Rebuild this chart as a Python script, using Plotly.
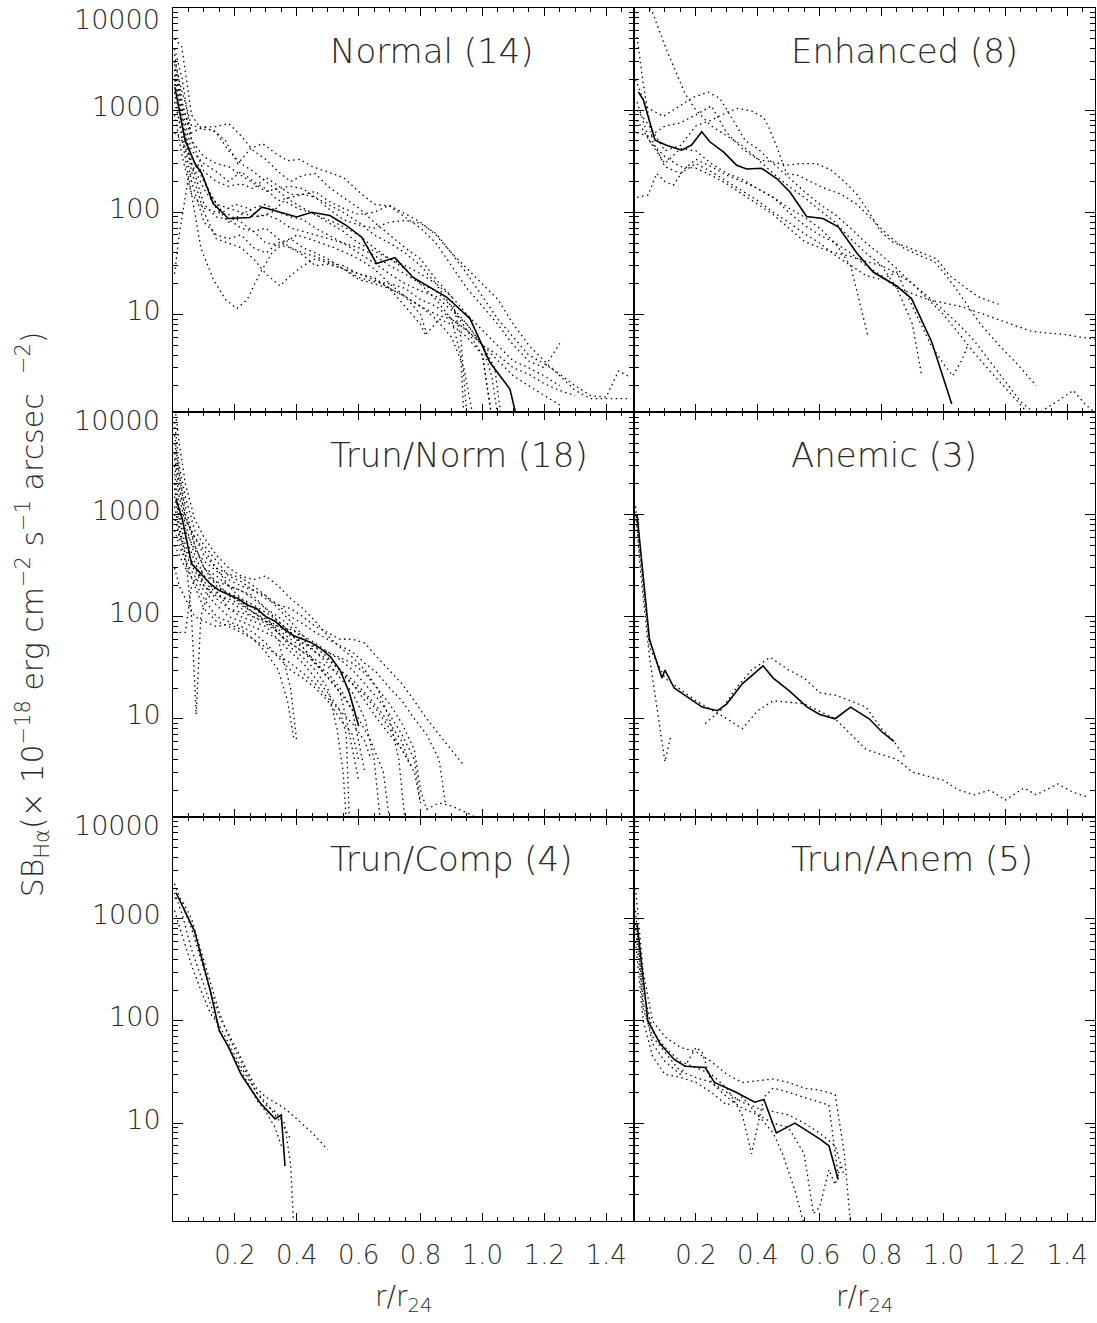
import math
import plotly.graph_objects as go
from plotly.subplots import make_subplots

# ---------------- data ----------------
panel_titles = ["Normal (14)", "Enhanced (8)", "Trun/Norm (18)",
                "Anemic (3)", "Trun/Comp (4)", "Trun/Anem (5)"]

x_tick_vals = [0.2, 0.4, 0.6, 0.8, 1.0, 1.2, 1.4]
x_tick_text = ["0.2", "0.4", "0.6", "0.8", "1.0", "1.2", "1.4"]
y_tick_vals = [10, 100, 1000, 10000]
y_tick_text = ["10", "100", "1000", ""]
y_top_label = "10000"

# --- Normal (14) ---
normal_mean_r = [0.006, 0.039, 0.071, 0.093, 0.13, 0.179, 0.249, 0.287, 0.313, 0.40, 0.448, 0.507,
                 0.561, 0.61, 0.658, 0.717, 0.776, 0.884, 0.96, 1.024, 1.089, 1.11]
normal_mean_sb = [1680, 508, 300, 240, 122, 87, 89, 112, 107, 90, 100, 93,
                  74, 57, 31.5, 36, 23, 14.8, 9.1, 3.4, 1.86, 1.0]
normal_profiles = [
    [(0.005, 3000), (0.03, 1500), (0.06, 700), (0.1, 680), (0.14, 690), (0.18, 740), (0.22, 560), (0.26, 400), (0.3, 330), (0.34, 250), (0.38, 200), (0.42, 230), (0.46, 240), (0.5, 180), (0.55, 140), (0.6, 110), (0.65, 80), (0.7, 60), (0.75, 45), (0.8, 35), (0.85, 22), (0.9, 15), (0.93, 6), (0.95, 1.0)],
    [(0.005, 5000), (0.028, 4200), (0.06, 900), (0.09, 650), (0.13, 640), (0.17, 500), (0.21, 300), (0.25, 420), (0.29, 470), (0.33, 380), (0.37, 320), (0.41, 330), (0.45, 280), (0.5, 250), (0.55, 220), (0.6, 160), (0.65, 120), (0.7, 115), (0.75, 90), (0.8, 70), (0.85, 50), (0.9, 30), (0.95, 18), (1.0, 12), (1.05, 8), (1.1, 5), (1.15, 3.5), (1.2, 3), (1.25, 5.2)],
    [(0.005, 2500), (0.03, 1000), (0.06, 400), (0.1, 300), (0.14, 250), (0.18, 200), (0.22, 250), (0.26, 200), (0.3, 170), (0.34, 130), (0.38, 140), (0.42, 150), (0.46, 160), (0.5, 130), (0.55, 110), (0.6, 95), (0.65, 100), (0.7, 117), (0.74, 100), (0.8, 80), (0.85, 60), (0.9, 40), (0.95, 25), (1.0, 15), (1.05, 9), (1.1, 6), (1.15, 4), (1.2, 3.3), (1.25, 2.6), (1.3, 2.0), (1.35, 1.6), (1.4, 1.55), (1.44, 2.8), (1.47, 2.5)],
    [(0.005, 25), (0.02, 60), (0.05, 220), (0.08, 300), (0.12, 150), (0.16, 100), (0.2, 120), (0.24, 110), (0.28, 90), (0.32, 100), (0.36, 130), (0.4, 110), (0.44, 100), (0.48, 90), (0.52, 80), (0.56, 70), (0.6, 60), (0.65, 45), (0.7, 35), (0.75, 30), (0.8, 25), (0.85, 20), (0.9, 12), (0.95, 7), (1.0, 4), (1.03, 1.0)],
    [(0.005, 1500), (0.03, 500), (0.06, 150), (0.09, 45), (0.13, 22), (0.17, 14), (0.206, 11.4), (0.24, 14), (0.28, 25), (0.32, 40), (0.36, 50), (0.4, 60), (0.44, 55), (0.48, 50), (0.52, 45), (0.56, 40), (0.6, 35), (0.65, 28), (0.7, 20), (0.75, 15), (0.8, 12), (0.85, 10), (0.9, 9), (0.95, 7), (1.0, 5), (1.04, 3), (1.06, 1.0)],
    [(0.005, 1800), (0.03, 800), (0.06, 250), (0.1, 100), (0.14, 55), (0.18, 50), (0.22, 45), (0.26, 35), (0.3, 25), (0.346, 19), (0.38, 24), (0.42, 30), (0.46, 35), (0.5, 32), (0.55, 28), (0.6, 25), (0.65, 22), (0.7, 18), (0.75, 15), (0.8, 12), (0.85, 9), (0.9, 6), (0.94, 3), (0.97, 1.0)],
    [(0.005, 2200), (0.03, 900), (0.06, 300), (0.1, 120), (0.14, 90), (0.18, 85), (0.22, 70), (0.26, 65), (0.3, 70), (0.34, 55), (0.38, 45), (0.42, 40), (0.46, 37), (0.5, 33), (0.55, 30), (0.6, 25), (0.65, 23), (0.7, 18), (0.75, 12), (0.8, 8), (0.82, 6)],
    [(0.005, 4000), (0.03, 2000), (0.06, 500), (0.1, 250), (0.14, 200), (0.18, 180), (0.22, 190), (0.26, 170), (0.3, 220), (0.34, 180), (0.38, 150), (0.42, 150), (0.46, 140), (0.5, 120), (0.55, 100), (0.6, 80), (0.65, 60), (0.7, 50), (0.75, 40), (0.8, 30), (0.85, 20), (0.9, 15), (0.95, 10), (1.0, 7), (1.05, 5), (1.1, 3.5), (1.15, 3), (1.2, 2.5), (1.25, 2)],
    [(0.005, 3500), (0.03, 1200), (0.06, 500), (0.1, 350), (0.14, 300), (0.18, 280), (0.22, 230), (0.26, 190), (0.3, 160), (0.34, 170), (0.38, 180), (0.42, 170), (0.46, 140), (0.5, 110), (0.55, 85), (0.6, 75), (0.65, 70), (0.7, 80), (0.75, 83), (0.8, 78), (0.85, 62), (0.9, 40), (0.95, 28), (1.0, 20), (1.05, 14), (1.1, 8), (1.15, 5), (1.2, 3.5), (1.25, 2.5), (1.3, 1.8), (1.35, 1.5), (1.4, 1.5), (1.45, 1.5), (1.48, 1.5)],
    [(0.005, 2800), (0.03, 1100), (0.06, 600), (0.1, 690), (0.14, 600), (0.18, 400), (0.22, 300), (0.26, 250), (0.3, 200), (0.34, 160), (0.38, 130), (0.42, 110), (0.46, 95), (0.5, 80), (0.55, 65), (0.6, 50), (0.65, 42), (0.7, 35), (0.75, 28), (0.8, 20), (0.85, 14), (0.9, 9), (0.93, 4), (0.94, 1.0)],
    [(0.005, 1200), (0.03, 600), (0.06, 200), (0.1, 80), (0.14, 60), (0.18, 55), (0.22, 60), (0.26, 45), (0.3, 40), (0.34, 50), (0.38, 55), (0.42, 45), (0.46, 40), (0.5, 35), (0.55, 28), (0.6, 22), (0.65, 20), (0.7, 18), (0.75, 15), (0.8, 10), (0.82, 6.5), (0.86, 9), (0.9, 8), (0.95, 6), (1.0, 4), (1.03, 1.0)],
    [(0.005, 900), (0.03, 350), (0.06, 150), (0.1, 110), (0.14, 100), (0.18, 95), (0.22, 80), (0.26, 65), (0.3, 50), (0.34, 48), (0.38, 45), (0.42, 38), (0.46, 30), (0.5, 31), (0.55, 28), (0.6, 23), (0.65, 21), (0.7, 20), (0.75, 18), (0.8, 14), (0.85, 12), (0.9, 9), (0.95, 7), (1.0, 5), (1.05, 4), (1.1, 3), (1.15, 2.6), (1.2, 2.1), (1.25, 1.8), (1.3, 1.6)],
    [(0.005, 600), (0.03, 500), (0.06, 300), (0.1, 170), (0.14, 110), (0.18, 80), (0.22, 95), (0.26, 110), (0.3, 120), (0.34, 100), (0.38, 90), (0.42, 85), (0.46, 70), (0.5, 60), (0.55, 50), (0.6, 45), (0.65, 38), (0.7, 30), (0.75, 25), (0.8, 20), (0.85, 17), (0.9, 12), (0.95, 8), (1.0, 5), (1.03, 2.5), (1.05, 1.0)],
    [(0.005, 2000), (0.03, 700), (0.06, 350), (0.1, 200), (0.14, 120), (0.18, 110), (0.22, 100), (0.26, 90), (0.3, 95), (0.34, 85), (0.38, 70), (0.42, 65), (0.46, 60), (0.5, 55), (0.55, 50), (0.6, 40), (0.65, 32), (0.7, 25), (0.75, 20), (0.8, 17), (0.85, 15), (0.9, 11), (0.95, 8), (1.0, 5), (1.05, 3.5), (1.1, 2.5), (1.15, 2), (1.2, 1.6), (1.25, 1.3)],
]

# --- Enhanced (8) ---
enhanced_mean_r = [0.014, 0.03, 0.068, 0.105, 0.154, 0.186, 0.219, 0.245, 0.289, 0.332, 0.364, 0.412,
                   0.461, 0.504, 0.558, 0.611, 0.66, 0.72, 0.773, 0.849, 0.897, 0.962, 1.027]
enhanced_mean_sb = [1510, 1260, 508, 454, 405, 455, 615, 490, 390, 288, 265, 270,
                    214, 158, 91, 87, 72, 40, 26, 19, 14.3, 5.4, 1.33]
enhanced_profiles = [
    [(0.01, 12000), (0.057, 9500), (0.105, 3900), (0.165, 1450), (0.2, 1000), (0.25, 700), (0.3, 560), (0.35, 450), (0.4, 330), (0.45, 240), (0.5, 180), (0.55, 140), (0.6, 105), (0.65, 80), (0.7, 55), (0.75, 40), (0.8, 30), (0.85, 18), (0.9, 8), (0.93, 2.5)],
    [(0.01, 140), (0.046, 148), (0.073, 240), (0.1, 200), (0.127, 184), (0.16, 260), (0.2, 330), (0.25, 280), (0.3, 230), (0.35, 200), (0.4, 170), (0.45, 140), (0.5, 110), (0.55, 90), (0.6, 70), (0.65, 50), (0.7, 30), (0.757, 6)],
    [(0.005, 2000), (0.04, 1070), (0.095, 870), (0.149, 1100), (0.193, 1340), (0.24, 1500), (0.278, 1300), (0.32, 800), (0.36, 500), (0.4, 420), (0.45, 300), (0.5, 220), (0.55, 160), (0.6, 120), (0.65, 95), (0.7, 70), (0.75, 50), (0.8, 38), (0.85, 28), (0.9, 20), (0.95, 14), (1.0, 10), (1.05, 6.5), (1.1, 4.2), (1.15, 2.8), (1.2, 1.9), (1.25, 1.3), (1.28, 1.0)],
    [(0.01, 1000), (0.05, 700), (0.1, 400), (0.15, 450), (0.2, 700), (0.25, 800), (0.3, 950), (0.335, 1040), (0.38, 980), (0.418, 850), (0.434, 700), (0.46, 450), (0.493, 240), (0.53, 230), (0.57, 200), (0.62, 170), (0.67, 150), (0.72, 120), (0.77, 85), (0.82, 60), (0.87, 45), (0.92, 38), (0.97, 33), (1.0, 26), (1.04, 18), (1.08, 12), (1.12, 8), (1.18, 5), (1.25, 3), (1.3, 2)],
    [(0.01, 600), (0.05, 550), (0.1, 700), (0.15, 750), (0.2, 900), (0.25, 1100), (0.3, 600), (0.35, 420), (0.4, 330), (0.45, 310), (0.5, 290), (0.54, 300), (0.59, 300), (0.636, 260), (0.676, 205), (0.72, 150), (0.76, 100), (0.795, 66), (0.84, 50), (0.88, 46), (0.93, 40), (0.978, 35), (1.02, 24), (1.063, 19), (1.11, 15), (1.15, 13.5), (1.188, 12.3)],
    [(0.01, 1200), (0.05, 500), (0.1, 300), (0.15, 420), (0.2, 400), (0.25, 300), (0.3, 240), (0.35, 210), (0.4, 170), (0.45, 140), (0.5, 100), (0.55, 75), (0.6, 60), (0.65, 50), (0.7, 40), (0.75, 30), (0.8, 24), (0.85, 18), (0.9, 16), (0.95, 14), (1.0, 13), (1.063, 11.8), (1.12, 10.3), (1.172, 9.1), (1.22, 8), (1.28, 6.9), (1.33, 6.6), (1.387, 6.4), (1.44, 6), (1.49, 5.7)],
    [(0.01, 5200), (0.03, 1800), (0.06, 500), (0.1, 280), (0.15, 240), (0.2, 300), (0.25, 250), (0.3, 200), (0.35, 160), (0.4, 130), (0.45, 100), (0.5, 80), (0.55, 62), (0.6, 50), (0.65, 38), (0.7, 30), (0.75, 24), (0.8, 22), (0.85, 26), (0.88, 16), (0.92, 9), (0.96, 5), (1.0, 3.3), (1.03, 2.5), (1.06, 3.6), (1.08, 5.1)],
    [(0.01, 800), (0.05, 500), (0.1, 350), (0.15, 280), (0.2, 270), (0.25, 230), (0.3, 190), (0.35, 150), (0.4, 120), (0.45, 95), (0.5, 70), (0.55, 52), (0.6, 45), (0.65, 40), (0.7, 37), (0.75, 33), (0.8, 30), (0.85, 25), (0.9, 20), (0.95, 15), (1.0, 11), (1.05, 8), (1.1, 5.5), (1.15, 3.5), (1.2, 2.2), (1.25, 1.4), (1.3, 1.05), (1.35, 1.3), (1.42, 1.8), (1.46, 1.3), (1.49, 1.1)],
]

# --- Trun/Norm (18) ---
trunnorm_mean_r = [0.01, 0.03, 0.06, 0.09, 0.12, 0.15, 0.18, 0.21, 0.24, 0.27, 0.3, 0.33, 0.36, 0.39,
                   0.42, 0.45, 0.48, 0.51, 0.54, 0.57, 0.6]
trunnorm_mean_sb = [1400, 900, 330, 260, 210, 180, 165, 150, 130, 120, 100, 90, 75, 65,
                    60, 55, 48, 40, 30, 18, 8.5]
trunnorm_profiles = [
    [(0.005, 12000), (0.02, 5000), (0.04, 2000), (0.07, 900), (0.1, 600), (0.14, 400), (0.18, 300), (0.22, 250), (0.26, 230), (0.3, 250), (0.34, 200), (0.38, 150), (0.42, 120), (0.46, 90), (0.5, 65), (0.54, 50), (0.58, 40), (0.62, 30), (0.66, 20), (0.7, 10), (0.73, 4), (0.75, 1.0)],
    [(0.005, 8000), (0.02, 3000), (0.04, 1500), (0.07, 700), (0.1, 500), (0.14, 350), (0.18, 250), (0.22, 220), (0.26, 180), (0.3, 150), (0.34, 130), (0.38, 120), (0.42, 100), (0.46, 80), (0.5, 70), (0.54, 60), (0.58, 60), (0.62, 55), (0.66, 40), (0.7, 30), (0.74, 22), (0.78, 15), (0.82, 10), (0.86, 7), (0.9, 5), (0.94, 3.5)],
    [(0.005, 5000), (0.02, 2500), (0.04, 1200), (0.07, 500), (0.1, 300), (0.14, 200), (0.18, 170), (0.22, 150), (0.26, 120), (0.3, 100), (0.34, 70), (0.38, 50), (0.42, 40), (0.46, 30), (0.5, 20), (0.53, 8), (0.55, 3), (0.56, 1.0)],
    [(0.005, 3000), (0.02, 1500), (0.04, 800), (0.07, 400), (0.1, 250), (0.14, 180), (0.18, 120), (0.22, 100), (0.26, 90), (0.3, 80), (0.34, 60), (0.38, 20), (0.4, 6)],
    [(0.005, 70), (0.02, 70), (0.04, 70), (0.06, 200), (0.1, 300), (0.14, 250), (0.18, 200), (0.22, 180), (0.26, 150), (0.3, 120), (0.34, 100), (0.38, 80), (0.42, 60), (0.46, 45), (0.5, 35), (0.54, 25), (0.58, 18), (0.62, 10), (0.65, 4), (0.67, 1.0)],
    [(0.005, 1500), (0.02, 800), (0.04, 400), (0.06, 100), (0.075, 11), (0.09, 100), (0.12, 200), (0.16, 180), (0.2, 150), (0.24, 120), (0.28, 100), (0.32, 80), (0.36, 60), (0.4, 50), (0.44, 40), (0.48, 30), (0.52, 22), (0.56, 15), (0.6, 10), (0.64, 6), (0.68, 3), (0.7, 1.0)],
    [(0.005, 2000), (0.02, 1000), (0.04, 600), (0.07, 350), (0.1, 200), (0.14, 150), (0.18, 120), (0.22, 110), (0.26, 100), (0.3, 90), (0.34, 80), (0.38, 75), (0.42, 65), (0.46, 55), (0.5, 45), (0.54, 40), (0.58, 35), (0.62, 28), (0.66, 20), (0.7, 14), (0.74, 9), (0.78, 5), (0.8, 2), (0.82, 1.3), (0.86, 1.5), (0.9, 1.4), (0.95, 1.2), (1.0, 1.0)],
    [(0.005, 4000), (0.02, 2000), (0.04, 900), (0.07, 600), (0.1, 450), (0.14, 300), (0.18, 200), (0.22, 150), (0.26, 130), (0.3, 110), (0.34, 90), (0.38, 70), (0.42, 55), (0.46, 50), (0.5, 45), (0.54, 38), (0.58, 30), (0.62, 22), (0.66, 16), (0.7, 11), (0.74, 7), (0.78, 4), (0.8, 1.5)],
    [(0.005, 6000), (0.02, 2500), (0.04, 1000), (0.07, 500), (0.1, 300), (0.14, 220), (0.18, 160), (0.22, 140), (0.26, 110), (0.3, 90), (0.34, 75), (0.38, 60), (0.42, 50), (0.46, 35), (0.5, 28), (0.54, 20), (0.58, 12), (0.6, 6), (0.62, 3)],
    [(0.005, 1000), (0.02, 600), (0.04, 350), (0.07, 250), (0.1, 180), (0.14, 130), (0.18, 100), (0.22, 90), (0.26, 80), (0.3, 70), (0.34, 60), (0.38, 45), (0.42, 35), (0.46, 25), (0.5, 18), (0.54, 12), (0.56, 7), (0.57, 1.0)],
    [(0.005, 2500), (0.02, 1200), (0.04, 700), (0.07, 450), (0.1, 350), (0.14, 280), (0.18, 230), (0.22, 200), (0.26, 180), (0.3, 160), (0.34, 130), (0.38, 100), (0.42, 85), (0.46, 70), (0.5, 60), (0.54, 52), (0.58, 45), (0.62, 35), (0.66, 28), (0.7, 20), (0.74, 15), (0.78, 10), (0.82, 7), (0.86, 4), (0.88, 1.5)],
    [(0.005, 500), (0.02, 400), (0.04, 300), (0.07, 220), (0.1, 150), (0.14, 100), (0.18, 90), (0.22, 80), (0.26, 70), (0.3, 55), (0.34, 40), (0.38, 30), (0.42, 25), (0.46, 20), (0.5, 15), (0.54, 10), (0.58, 7), (0.6, 4)],
    [(0.005, 3500), (0.02, 1800), (0.04, 900), (0.07, 600), (0.1, 400), (0.14, 300), (0.18, 260), (0.22, 240), (0.26, 200), (0.3, 160), (0.34, 120), (0.38, 90), (0.42, 65), (0.46, 50), (0.5, 40), (0.54, 30), (0.58, 22), (0.62, 15), (0.66, 10), (0.7, 7), (0.74, 5), (0.77, 3.5)],
    [(0.005, 700), (0.02, 500), (0.04, 350), (0.07, 200), (0.1, 120), (0.14, 90), (0.18, 80), (0.22, 70), (0.26, 60), (0.3, 45), (0.34, 30), (0.37, 15), (0.39, 6.5)],
    [(0.005, 1800), (0.02, 900), (0.04, 500), (0.07, 300), (0.1, 220), (0.14, 170), (0.18, 140), (0.22, 120), (0.26, 100), (0.3, 85), (0.34, 70), (0.38, 55), (0.42, 45), (0.46, 38), (0.5, 32), (0.54, 28), (0.58, 22), (0.62, 17), (0.66, 12), (0.7, 8), (0.74, 5), (0.78, 3), (0.8, 1.5)],
    [(0.005, 1200), (0.02, 700), (0.04, 400), (0.07, 280), (0.1, 200), (0.14, 160), (0.18, 150), (0.22, 130), (0.26, 110), (0.3, 95), (0.34, 80), (0.38, 65), (0.42, 55), (0.46, 45), (0.5, 38), (0.54, 30), (0.58, 24), (0.62, 18), (0.66, 13), (0.7, 9), (0.74, 6), (0.76, 4)],
    [(0.005, 900), (0.02, 650), (0.04, 450), (0.07, 300), (0.1, 250), (0.14, 220), (0.18, 200), (0.22, 180), (0.26, 160), (0.3, 120), (0.34, 90), (0.38, 70), (0.42, 50), (0.46, 35), (0.5, 25), (0.54, 18), (0.56, 10), (0.58, 5), (0.6, 2.5)],
    [(0.005, 300), (0.02, 200), (0.04, 150), (0.07, 100), (0.1, 90), (0.14, 80), (0.18, 85), (0.22, 75), (0.26, 60), (0.3, 50), (0.34, 42), (0.38, 35), (0.42, 28), (0.46, 22), (0.5, 16), (0.54, 12), (0.58, 9), (0.62, 6), (0.64, 4)],
]

# --- Anemic (3) ---
anemic_mean_r = [0.01, 0.05, 0.09, 0.1, 0.13, 0.22, 0.27, 0.3, 0.35, 0.417, 0.45, 0.5, 0.56, 0.6, 0.65, 0.7, 0.76, 0.8, 0.84]
anemic_mean_sb = [1000, 60, 25, 30, 20, 13, 12, 14, 22, 33, 25, 19, 13, 11, 10, 13, 10, 7.5, 6]
anemic_profiles = [
    [(0.005, 1200), (0.02, 300), (0.05, 40), (0.08, 10), (0.1, 3.8), (0.12, 7)],
    [(0.23, 9), (0.28, 12), (0.33, 20), (0.38, 30), (0.44, 40), (0.5, 30), (0.55, 25), (0.6, 18), (0.65, 17), (0.7, 15), (0.75, 13), (0.8, 8), (0.84, 6), (0.88, 4)],
    [(0.005, 1000), (0.03, 200), (0.05, 50), (0.1, 25), (0.2, 15), (0.3, 10), (0.35, 8), (0.4, 12), (0.45, 15), (0.55, 14), (0.65, 10), (0.75, 5), (0.85, 4), (0.9, 3), (1.0, 2.5), (1.05, 2), (1.1, 1.8), (1.15, 2), (1.2, 1.6), (1.26, 2.1), (1.3, 1.8), (1.37, 2.3), (1.42, 1.9), (1.47, 1.7)],
]

# --- Trun/Comp (4) ---
truncomp_mean_r = [0.01, 0.07, 0.12, 0.15, 0.18, 0.22, 0.28, 0.33, 0.35, 0.362]
truncomp_mean_sb = [1800, 750, 200, 80, 55, 30, 16, 11, 12, 3.8]
truncomp_profiles = [
    [(0.005, 2200), (0.03, 1400), (0.06, 800), (0.09, 400), (0.12, 200), (0.15, 110), (0.18, 75), (0.21, 50), (0.24, 32), (0.27, 22), (0.3, 18), (0.33, 16), (0.36, 14), (0.4, 11), (0.45, 8), (0.5, 5.5)],
    [(0.005, 1600), (0.03, 1500), (0.06, 1000), (0.09, 500), (0.12, 250), (0.15, 120), (0.18, 70), (0.21, 45), (0.24, 30), (0.27, 20), (0.3, 15), (0.33, 13), (0.36, 10), (0.38, 4), (0.39, 1.0)],
    [(0.005, 1200), (0.03, 700), (0.06, 350), (0.09, 200), (0.12, 120), (0.15, 90), (0.18, 60), (0.21, 40), (0.24, 28), (0.27, 20), (0.3, 16), (0.33, 12), (0.36, 9), (0.38, 7)],
    [(0.005, 1800), (0.03, 1100), (0.06, 500), (0.09, 280), (0.12, 150), (0.15, 80), (0.18, 55), (0.21, 38), (0.24, 25), (0.27, 17), (0.3, 13), (0.33, 9), (0.35, 6)],
]

# --- Trun/Anem (5) ---
trunanem_mean_r = [0.01, 0.045, 0.084, 0.13, 0.165, 0.23, 0.26, 0.33, 0.39, 0.42, 0.46, 0.52, 0.6, 0.63, 0.66]
trunanem_mean_sb = [900, 100, 60, 42, 36, 35, 25, 20, 16, 17, 8, 10, 7, 6, 2.8]
trunanem_profiles = [
    [(0.005, 2000), (0.03, 300), (0.06, 100), (0.1, 70), (0.15, 55), (0.2, 50), (0.25, 40), (0.3, 30), (0.35, 25), (0.4, 26), (0.45, 27), (0.5, 25), (0.55, 22), (0.6, 21), (0.65, 19), (0.68, 5), (0.7, 1.0)],
    [(0.005, 900), (0.03, 200), (0.06, 80), (0.1, 55), (0.15, 40), (0.2, 35), (0.25, 30), (0.3, 22), (0.35, 12), (0.38, 5), (0.42, 18), (0.45, 22), (0.5, 20), (0.55, 18), (0.6, 16), (0.63, 15), (0.66, 3)],
    [(0.005, 1200), (0.03, 150), (0.06, 60), (0.1, 40), (0.15, 30), (0.2, 55), (0.22, 50), (0.25, 25), (0.3, 18), (0.35, 14), (0.4, 12), (0.45, 8), (0.48, 5), (0.52, 2.2), (0.55, 1.0)],
    [(0.005, 600), (0.03, 100), (0.06, 45), (0.1, 30), (0.15, 28), (0.2, 25), (0.25, 20), (0.3, 15), (0.35, 18), (0.4, 12), (0.45, 10), (0.5, 9), (0.55, 5), (0.58, 1.3), (0.6, 1.5), (0.63, 3.5), (0.65, 2.5), (0.67, 4)],
    [(0.005, 800), (0.03, 130), (0.06, 70), (0.1, 50), (0.15, 32), (0.2, 28), (0.25, 25), (0.3, 20), (0.35, 16), (0.4, 14), (0.45, 13), (0.5, 12), (0.55, 10), (0.6, 8), (0.65, 6), (0.68, 3)],
]

# ---------------- figure ----------------
FONT = "DejaVu Sans"
TXT = "#2a2a2a"
WEIGHT = 200

fig = make_subplots(rows=3, cols=2, horizontal_spacing=0, vertical_spacing=0)

panels = [
    (1, 1, panel_titles[0], normal_profiles, normal_mean_r, normal_mean_sb),
    (1, 2, panel_titles[1], enhanced_profiles, enhanced_mean_r, enhanced_mean_sb),
    (2, 1, panel_titles[2], trunnorm_profiles, trunnorm_mean_r, trunnorm_mean_sb),
    (2, 2, panel_titles[3], anemic_profiles, anemic_mean_r, anemic_mean_sb),
    (3, 1, panel_titles[4], truncomp_profiles, truncomp_mean_r, truncomp_mean_sb),
    (3, 2, panel_titles[5], trunanem_profiles, trunanem_mean_r, trunanem_mean_sb),
]

y_lo = math.log10(1.1)
y_hi = 4.0

for row, col, title, profiles, mr, ms in panels:
    for prof in profiles:
        fig.add_trace(go.Scatter(
            x=[p[0] for p in prof], y=[p[1] for p in prof], mode="lines",
            line=dict(color="black", width=1.3, dash="1.5px,3.5px"),
            showlegend=False, hoverinfo="skip"), row=row, col=col)
    fig.add_trace(go.Scatter(
        x=mr, y=ms, mode="lines", line=dict(color="black", width=1.6),
        showlegend=False, hoverinfo="skip"), row=row, col=col)
    fig.add_annotation(text=title, x=0.5, y=3.583, xanchor="left", yanchor="middle",
                       showarrow=False,
                       font=dict(family=FONT, size=34, color=TXT, weight=WEIGHT),
                       row=row, col=col)

# "10000" labels drawn just below the top edge of each left panel
for row, dy in ((1, -11), (2, -8), (3, -9)):
    fig.add_annotation(text=y_top_label, x=0, y=y_hi, xanchor="right", yanchor="middle",
                       xshift=-11, yshift=dy, showarrow=False,
                       font=dict(family=FONT, size=27, color=TXT, weight=WEIGHT),
                       row=row, col=1)

minor_y = [m * 10 ** e for e in range(0, 4) for m in range(2, 10)]

fig.update_xaxes(
    range=[0, 1.49], tickvals=x_tick_vals, ticktext=x_tick_text,
    ticks="inside", ticklen=8, tickwidth=1, tickcolor="black",
    showline=True, linecolor="black", linewidth=1, mirror="ticks",
    showgrid=False, zeroline=False, showticklabels=False, automargin=False,
    tickfont=dict(family=FONT, size=26, color=TXT, weight=WEIGHT),
    minor=dict(dtick=0.05, tick0=0, ticks="inside", ticklen=4, tickcolor="black", showgrid=False),
)
fig.update_xaxes(showticklabels=True, ticklabelstandoff=11, row=3)

fig.update_yaxes(
    type="log", range=[y_lo, y_hi], tickvals=y_tick_vals, ticktext=y_tick_text,
    ticks="inside", ticklen=10, tickwidth=1, tickcolor="black",
    showline=True, linecolor="black", linewidth=1, mirror="ticks",
    showgrid=False, zeroline=False, showticklabels=False, automargin=False,
    tickfont=dict(family=FONT, size=27, color=TXT, weight=WEIGHT),
    minor=dict(tickvals=minor_y, ticks="inside", ticklen=5, tickcolor="black", showgrid=False),
)
fig.update_yaxes(showticklabels=True, ticklabelshift=-4, ticklabelstandoff=6, col=1)

# x-axis titles
for cx in (0.25, 0.75):
    fig.add_annotation(text="r/r<sub>24</sub>", xref="paper", yref="paper", x=cx, y=-0.064,
                       xanchor="center", yanchor="middle", showarrow=False,
                       font=dict(family=FONT, size=28, color=TXT, weight=WEIGHT))

# y-axis title
fig.add_annotation(
    text="SB<sub>Hα</sub>(× 10<sup>−18</sup> erg cm<sup>−2</sup> s<sup>−1</sup> arcsec  <sup>−2</sup>)",
    xref="paper", yref="paper", x=-0.152, y=0.5, xanchor="center", yanchor="middle",
    textangle=-90, showarrow=False,
    font=dict(family=FONT, size=30, color=TXT, weight=WEIGHT))

fig.update_layout(
    width=1097, height=1323, margin=dict(l=173, r=2, t=8, b=102),
    paper_bgcolor="white", plot_bgcolor="white",
)

fig.write_html("out.html")
